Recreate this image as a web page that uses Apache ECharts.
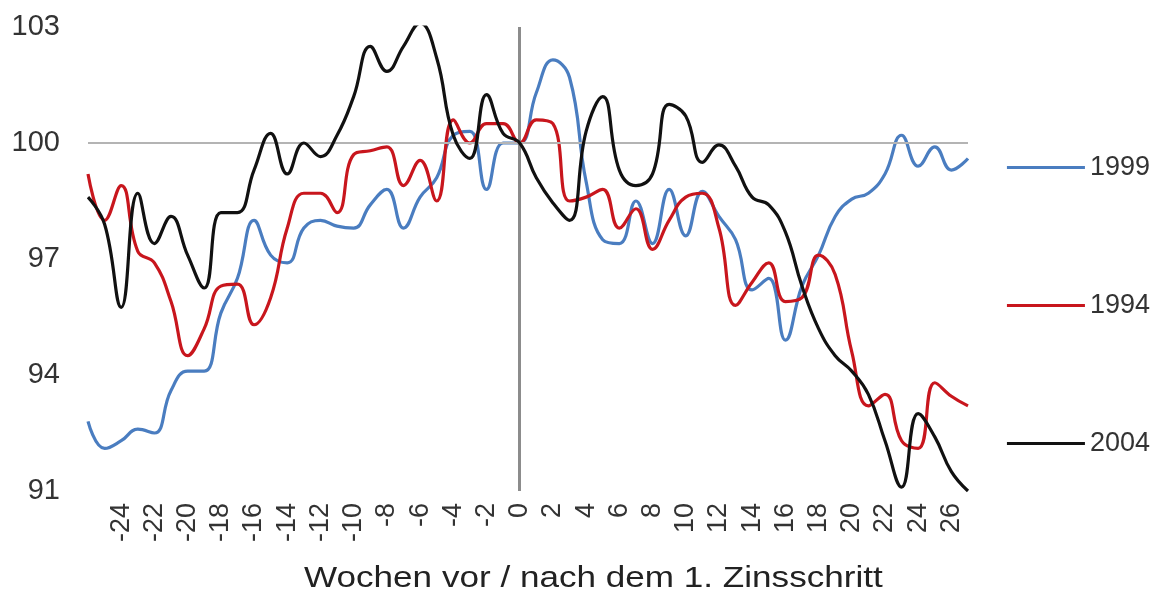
<!DOCTYPE html>
<html>
<head>
<meta charset="utf-8">
<script src="https://cdn.jsdelivr.net/npm/echarts@6/dist/echarts.min.js"></script>
<style>
  html, body { margin: 0; padding: 0; background: #fff; }
  #chart { width: 1155px; height: 597px; }
</style>
</head>
<body>
<div id="chart"></div>
<script>
// Wochen vor / nach dem 1. Zinsschritt
const weeks = [-26, -25, -24, -23, -22, -21, -20, -19, -18, -17, -16, -15, -14, -13, -12, -11, -10, -9, -8, -7, -6, -5, -4, -3, -2, -1,
  0, 1, 2, 3, 4, 5, 6, 7, 8, 9, 10, 11, 12, 13, 14, 15, 16, 17, 18, 19, 20, 21, 22, 23, 24, 25, 26, 27];

const values1999 = [92.8, 92.1, 92.3, 92.6, 92.5, 93.6, 94.1, 94.1, 95.6, 96.5, 98.0, 97.1, 96.9, 97.8, 98.0, 97.85, 97.8, 98.4, 98.8, 97.8, 98.6, 99.1, 100.2, 100.3, 98.8, 100.0,
  100, 101.3, 102.15, 101.7, 99.0, 97.5, 97.4, 98.5, 97.4, 98.8, 97.6, 98.75, 98.1, 97.5, 96.2, 96.5, 94.9, 96.3, 97.1, 98.1, 98.55, 98.7, 99.2, 100.2, 99.4, 99.9, 99.3, 99.6];

const values1994 = [99.2, 98.0, 98.9, 97.2, 96.9, 95.9, 94.5, 95.2, 96.3, 96.35, 95.3, 96.0, 97.8, 98.7, 98.7, 98.2, 99.7, 99.8, 99.9, 98.9, 99.55, 98.5, 100.6, 100.0, 100.5, 100.5,
  100, 100.6, 100.5, 98.5, 98.6, 98.8, 97.8, 98.3, 97.25, 98.0, 98.6, 98.7, 97.8, 95.8, 96.4, 96.9, 95.9, 96.0, 97.1, 96.6, 94.6, 93.2, 93.5, 92.3, 92.1, 93.8, 93.45, 93.2];

const values2004 = [98.6, 97.9, 95.75, 98.7, 97.4, 98.1, 97.1, 96.25, 98.2, 98.2, 99.3, 100.25, 99.2, 100.0, 99.65, 100.2, 101.2, 102.5, 101.85, 102.5, 103.1, 102.2, 100.2, 99.6, 101.25, 100.25,
  100, 99.1, 98.45, 98.0, 100.3, 101.2, 99.3, 98.9, 99.2, 101.0, 100.7, 99.5, 99.95, 99.4, 98.6, 98.4, 97.7, 96.3, 95.2, 94.5, 94.1, 93.5, 92.3, 91.1, 93.0, 92.4, 91.5, 91.0];

const xTicks = [-24, -22, -20, -18, -16, -14, -12, -10, -8, -6, -4, -2, 0, 2, 4, 6, 8, 10, 12, 14, 16, 18, 20, 22, 24, 26];
const yTicks = [91, 94, 97, 100, 103];

const seriesNames = ["1999", "1994", "2004"];
const seriesColors = ["#4a7dc0", "#c8161d", "#111111"];

const chart = echarts.init(document.getElementById("chart"));

const toPairs = (vals) => weeks.map((w, i) => [w, vals[i]]);

const makeLine = (name, vals, color, extra) => Object.assign({
  name: name,
  type: "line",
  data: toPairs(vals),
  smooth: 0.45,
  showSymbol: false,
  symbol: "none",
  lineStyle: { color: color, width: 3.2 },
  itemStyle: { color: color },
}, extra || {});

const option = {
  animation: false,
  textStyle: { fontFamily: "Liberation Sans, Arial, sans-serif" },
  grid: { left: 88, right: 187, top: 27, bottom: 106 },
  // axis title, stretched a little like the original
  graphic: [{
    type: "text",
    x: 304,
    y: 564,
    scaleX: 1.17,
    style: {
      text: "Wochen vor / nach dem 1. Zinsschritt",
      font: "30px 'Liberation Sans', Arial, sans-serif",
      fill: "#222",
      textVerticalAlign: "top",
    },
  }],
  legend: {
    orient: "vertical",
    right: 0,
    top: 149,
    itemWidth: 78,
    itemHeight: 3,
    itemGap: 111,
    icon: "rect",
    textStyle: { fontSize: 27, color: "#333" },
    data: seriesNames,
  },
  xAxis: {
    type: "value",
    min: -26,
    max: 27,
    axisLine: { show: false },
    axisTick: { show: false },
    splitLine: { show: false },
    axisLabel: {
      customValues: xTicks,
      rotate: 90,
      margin: 12,
      fontSize: 27,
      color: "#333",
    },
  },
  yAxis: {
    type: "value",
    min: 91,
    max: 103,
    axisLine: { show: false },
    axisTick: { show: false },
    splitLine: { show: false },
    axisLabel: {
      customValues: yTicks,
      margin: 28,
      fontSize: 29,
      color: "#333",
    },
  },
  series: [
    makeLine(seriesNames[0], values1999, seriesColors[0], {
      z: 3,
      markLine: {
        silent: true,
        symbol: "none",
        label: { show: false },
        animation: false,
        data: [
          { yAxis: 100, lineStyle: { color: "#b4b4b4", width: 2, type: "solid" } },
          { xAxis: 0, lineStyle: { color: "#8c8c8c", width: 3, type: "solid" } },
        ],
      },
    }),
    makeLine(seriesNames[1], values1994, seriesColors[1], { z: 4 }),
    makeLine(seriesNames[2], values2004, seriesColors[2], { z: 5 }),
  ],
};

chart.setOption(option);
</script>
</body>
</html>
